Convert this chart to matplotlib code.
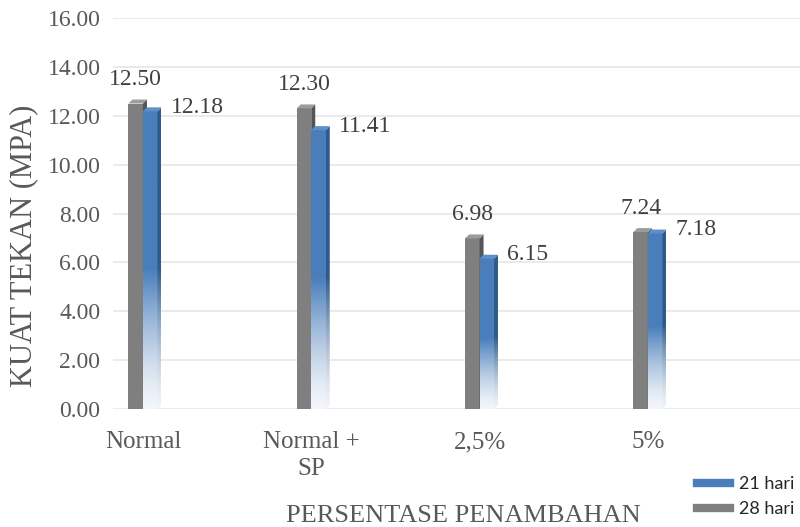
import numpy as np
import matplotlib.pyplot as plt
from matplotlib.patches import Polygon, Rectangle
from matplotlib.lines import Line2D
from matplotlib.colors import to_rgb

SERIF = ["Liberation Serif", "DejaVu Serif"]
plt.rcParams["font.family"] = SERIF

# data
kategori = ["Normal", "Normal +\nSP", "2,5%", "5%"]
hari_28 = [12.50, 12.30, 6.98, 7.24]
hari_21 = [12.18, 11.41, 6.15, 7.18]
y_ticks = [0, 2, 4, 6, 8, 10, 12, 14, 16]

W, H = 800, 527
fig = plt.figure(figsize=(W / 100, H / 100), dpi=100)
ax = fig.add_axes([113 / W, 1 - 409 / H, 687 / W, 391 / H])

x_lo, x_hi = -0.178, 3.904
ax.set_xlim(x_lo, x_hi)
ax.set_ylim(0, 16)

# ukuran 3D dalam satuan data (sekitar 4 px)
px_x = (x_hi - x_lo) / 687
px_y = 16 / 391
dx, dy = 4 * px_x, 4 * px_y
bw = 14.5 * px_x


def fade_img(color, n=300, start=0.47):
    t = np.linspace(0, 1, n)
    a = np.clip(t / start, 0, 1) ** 1.4
    a = 0.07 + 0.93 * a
    rgb = np.array(to_rgb(color))
    img = (1 - a)[:, None, None] * np.ones(3) + a[:, None, None] * rgb
    return img


def draw_box(x0, h, front, side, top, fade=False, z=2):
    x1 = x0 + bw
    side_pts = [(x1, 0), (x1 + dx, dy), (x1 + dx, h + dy), (x1, h)]
    top_pts = [(x0, h), (x0 + dx, h + dy), (x1 + dx, h + dy), (x1, h)]
    if fade:
        ax.imshow(fade_img(front), extent=[x0, x1, 0, h], origin="lower",
                  aspect="auto", zorder=z, interpolation="bilinear")
        im2 = ax.imshow(fade_img(side), extent=[x1, x1 + dx, 0, h + dy], origin="lower",
                        aspect="auto", zorder=z, interpolation="bilinear")
        clip = Polygon(side_pts, closed=True, transform=ax.transData)
        im2.set_clip_path(clip)
    else:
        ax.add_patch(Rectangle((x0, 0), bw, h, facecolor=front, edgecolor="none", zorder=z))
        ax.add_patch(Polygon(side_pts, closed=True, facecolor=side, edgecolor="none", zorder=z))
    ax.add_patch(Polygon(top_pts, closed=True, facecolor=top, edgecolor="none", zorder=z))


for i in range(len(kategori)):
    # 28 hari (abu-abu) di belakang kiri
    draw_box(i - bw, hari_28[i], "#7f7f7f", "#555555", "#9c9c9c", z=2)
    # 21 hari (biru) di depan kanan
    draw_box(i, hari_21[i], "#4a7ebb", "#2f5a8c", "#5d8fcb", fade=True, z=3)

    ax.annotate(f"{hari_28[i]:.2f}", (i - bw / 2, hari_28[i]), xytext=(0, 17),
                textcoords="offset points", ha="center", va="center",
                fontsize=17, color="#404040", zorder=5, family=SERIF)
    ax.annotate(f"{hari_21[i]:.2f}", (i + bw + dx, hari_21[i]), xytext=(6.5, 3),
                textcoords="offset points", ha="left", va="center",
                fontsize=17, color="#404040", zorder=5, family=SERIF)

ax.set_xlim(x_lo, x_hi)
ax.set_ylim(0, 16)
ax.set_yticks(y_ticks)
ax.set_yticklabels([f"{v:.2f}" for v in y_ticks], family=SERIF)
ax.set_xticks(range(len(kategori)))
ax.set_xticklabels(kategori, linespacing=1.3, family=SERIF)
ax.tick_params(axis="y", length=0, pad=9, labelsize=17, labelcolor="#595959")
ax.tick_params(axis="x", length=0, pad=16, labelsize=18, labelcolor="#595959")
ax.grid(axis="y", color="#e6e6e6", linewidth=1.2, zorder=0)
ax.set_axisbelow(True)
for s in ax.spines.values():
    s.set_visible(False)

fig.text(24 / W, 1 - 246 / H, "KUAT TEKAN (MPA)", rotation=90, ha="center", va="center",
         fontsize=22, color="#595959", family=SERIF)
fig.text(463 / W, 1 - 522 / H, "PERSENTASE PENAMBAHAN", ha="center", va="baseline",
         fontsize=19, color="#595959", family=SERIF)

handles = [Line2D([], [], color="#4a7ebb", linewidth=6),
           Line2D([], [], color="#7f7f7f", linewidth=6)]
fig.legend(handles, ["21 hari", "28 hari"], loc="lower left",
           bbox_to_anchor=(697 / W, 10 / H), frameon=False, borderpad=0,
           borderaxespad=0, handlelength=1.85, handletextpad=0.45,
           labelspacing=0.5, prop={"family": "Lato", "size": 13},
           labelcolor="#262626")

fig.savefig("out.png", dpi=100)
